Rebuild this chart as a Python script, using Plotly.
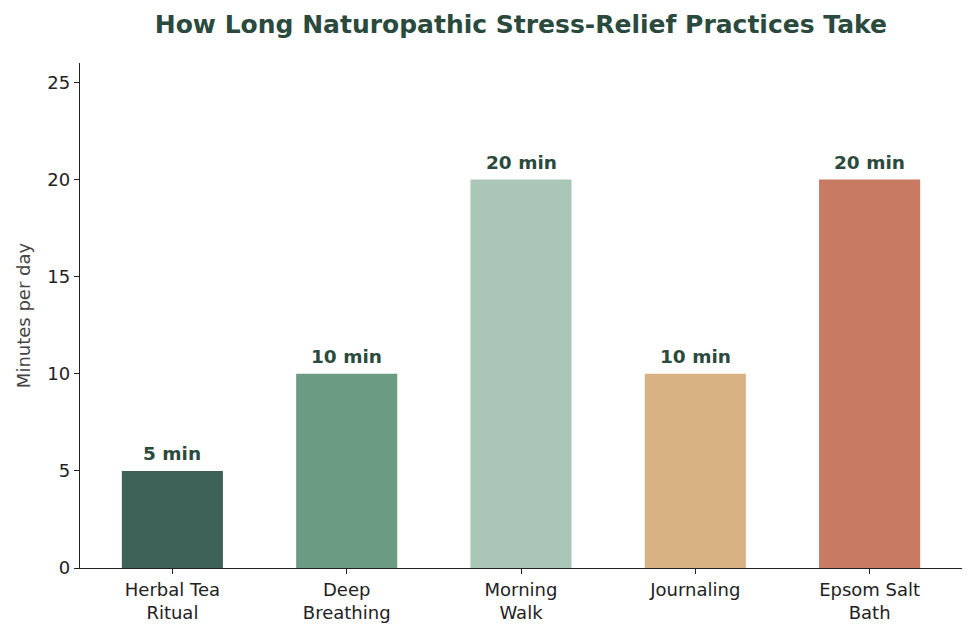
import plotly.graph_objects as go

practices = ["Herbal Tea<br>Ritual", "Deep<br>Breathing", "Morning<br>Walk", "Journaling", "Epsom Salt<br>Bath"]
minutes = [5, 10, 20, 10, 20]
bar_colors = ["#3e6257", "#6c9b84", "#a9c6b7", "#d8b282", "#c87a62"]
y_ticks = [0, 5, 10, 15, 20, 25]

positions = list(range(len(practices)))

fig = go.Figure(
    go.Bar(
        x=positions,
        y=minutes,
        width=0.58,
        marker=dict(color=bar_colors, line=dict(width=0)),
    )
)

# value labels sit a bit higher above the bars than plotly's outside text
for i, m in zip(positions, minutes):
    fig.add_annotation(
        x=i,
        y=m,
        text=f"<b>{m} min</b>",
        showarrow=False,
        yanchor="bottom",
        yshift=5,
        font=dict(family="DejaVu Sans", size=18.5, color="#2b4a3e"),
    )

fig.update_layout(
    width=975,
    height=635,
    margin=dict(l=72, r=21, t=55, b=75),
    plot_bgcolor="white",
    paper_bgcolor="white",
    showlegend=False,
    font=dict(family="DejaVu Sans", size=17, color="#222"),
    title=dict(
        text="<b>How Long Naturopathic Stress-Relief Practices Take</b>",
        x=0.526,
        xanchor="center",
        y=0.975,
        yanchor="middle",
        font=dict(family="DejaVu Sans", size=25, color="#2b4a3e"),
    ),
)

fig.update_xaxes(
    range=[-0.53, 4.53],
    tickvals=positions,
    ticktext=practices,
    showline=True,
    linecolor="#222",
    linewidth=1.3,
    ticks="outside",
    ticklen=5,
    tickcolor="#222",
    showgrid=False,
    zeroline=False,
    tickfont=dict(size=18, color="#222"),
)

fig.update_yaxes(
    range=[0, 26],
    tickvals=y_ticks,
    showline=True,
    linecolor="#222",
    linewidth=1.3,
    ticks="outside",
    ticklen=5,
    tickcolor="#222",
    showgrid=False,
    zeroline=False,
    tickfont=dict(size=18, color="#222"),
    title=dict(text="Minutes per day", font=dict(size=18, color="#444"), standoff=12),
)

fig.write_html("out.html")
